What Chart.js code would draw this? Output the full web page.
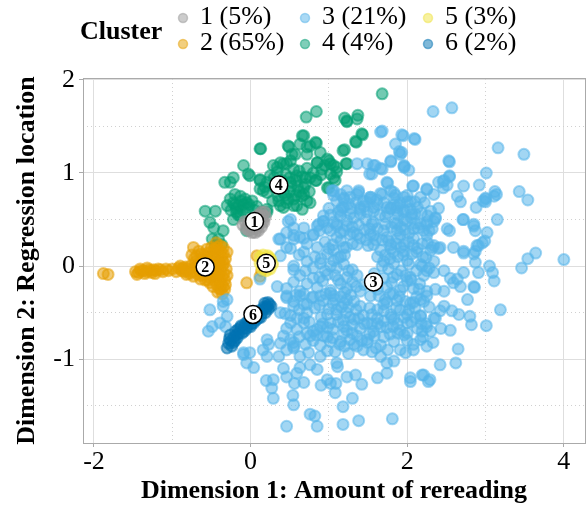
<!DOCTYPE html>
<html>
<head>
<meta charset="utf-8">
<script src="https://cdn.jsdelivr.net/npm/chart.js@4"></script>
<style>
  html, body { margin: 0; padding: 0; background: #fff; }
  canvas { display: block; }
</style>
</head>
<body>
<canvas id="clusterChart" width="587" height="508"></canvas>
<script>
// cluster points as [dim1, dim2]
const cluster1 = [
  [-0.10,0.44],[-0.06,0.40],[-0.02,0.38],[0.02,0.36],[0.06,0.36],[0.10,0.38],[0.14,0.42],[0.17,0.47],
  [0.19,0.53],[0.18,0.58],[0.14,0.58],[0.10,0.55],[0.06,0.52],[0.02,0.49],[-0.03,0.47],[-0.07,0.48],
  [0.00,0.42],[0.05,0.44],[0.10,0.46],[0.13,0.50],[0.08,0.40],[-0.04,0.43],[0.16,0.54],[0.12,0.53],
  [0.03,0.40],[0.07,0.48],[0.09,0.43],[0.01,0.45],[0.15,0.48]
];
const cluster2 = [
  [-1.88,-0.08],[-1.82,-0.09],[-1.47,-0.06],[-1.43,-0.07],[-1.40,-0.05],[-1.37,-0.05],[-1.33,-0.06],
  [-1.30,-0.04],[-1.27,-0.05],[-1.24,-0.04],[-1.21,-0.05],[-1.18,-0.03],[-1.15,-0.04],[-1.08,-0.03],
  [-1.00,-0.03],[-0.92,-0.02],[-0.89,-0.03],[-0.86,-0.02],[-0.83,-0.01],[-0.80,-0.03],
  [-1.45,-0.09],[-1.35,-0.08],[-1.26,-0.07],[-1.12,-0.06],[-1.05,-0.05],[-0.95,-0.06],[-0.88,-0.05],
  [-0.84,-0.06],[-0.78,-0.08],[-1.41,-0.03],[-1.32,-0.02],[-1.22,-0.08],[-0.90,0.00],[-0.82,-0.09],
  [-0.73,0.20],[-0.39,0.22],[-0.35,0.13],[-0.69,0.11],[-0.77,0.00],[-0.81,-0.05],[-0.47,0.07],
  [-0.43,-0.07],[-0.39,-0.14],[-0.35,-0.22],[-0.52,-0.18],[-0.64,-0.14],[-0.73,-0.11],[-0.56,0.18],
  [-0.60,0.00],[-0.52,0.10],[-0.45,0.15],[-0.40,0.05],[-0.36,0.00],[-0.34,-0.08],[-0.45,-0.12],
  [-0.55,-0.08],[-0.65,-0.05],[-0.70,0.05],[-0.62,0.08],[-0.50,0.00],[-0.42,-0.02],[-0.58,-0.15],
  [-0.48,-0.22],[-0.38,-0.25],[-0.66,0.16],[-0.35,0.20],[-0.32,0.08],[-0.33,-0.15],[-0.44,0.25],
  [-0.75,0.12],[-0.71,-0.02],[-0.68,-0.08],[-0.62,-0.02],[-0.58,0.05],[-0.54,0.14],[-0.50,0.20],
  [-0.47,-0.05],[-0.44,0.10],[-0.41,0.17],[-0.38,-0.05],[-0.37,0.10],[-0.40,-0.18],[-0.42,-0.28],
  [-0.36,-0.30],[-0.46,-0.15],[-0.53,-0.12],[-0.57,-0.03],[-0.63,0.13],[-0.67,0.02],[-0.49,0.04],
  [-0.55,0.03],[-0.45,-0.03],[-0.52,-0.06],[-0.60,-0.09],[-0.39,0.02],[-0.34,0.03],[-0.31,-0.03],
  [-0.36,-0.12],
  [-0.30,0.15],[-0.30,-0.10],[-0.32,-0.20],[-0.37,-0.20],[-0.41,-0.10],[-0.44,0.02],[-0.48,0.12],
  [-0.50,-0.10],[-0.55,-0.15],[-0.60,0.12],[-0.64,-0.10],[-0.68,0.00],[-0.72,0.08],[-0.76,-0.06],
  [-0.42,0.20],[-0.38,0.15],[-0.33,-0.25],[-0.40,-0.24],[-0.57,0.10],[-0.62,0.04],[-0.36,0.05],
  [-0.47,0.18],[-0.53,-0.01],[-0.43,-0.20],
  [-0.05,-0.18],[0.08,0.11],[0.12,-0.11],[0.14,-0.05]
];
const cluster3 = [
  [2.33,1.66],[2.57,1.70],[1.95,1.40],[2.10,1.36],[1.93,1.22],[3.16,1.27],[3.49,1.20],[2.54,1.12],
  [1.96,1.07],[2.02,1.03],[3.01,1.00],[2.54,0.96],[2.46,0.91],[2.51,0.87],[2.46,0.84],[2.07,0.86],
  [2.25,0.82],[2.72,0.86],[2.92,0.87],[3.12,0.80],[3.14,0.77],[3.43,0.80],[3.54,0.71],[3.00,0.73],
  [3.00,0.69],[2.68,0.69],[2.88,0.63],[2.04,0.69],[2.10,0.69],[2.06,0.56],[2.71,0.50],[2.85,0.45],
  [2.87,0.38],[3.15,0.50],[2.25,0.45],[2.36,0.51],[2.54,0.38],[2.08,0.40],[2.21,0.38],[2.32,0.40],
  [2.99,0.27],[2.91,0.22],[2.87,0.16],[2.59,0.20],[2.72,0.16],[2.32,0.20],[2.40,0.19],[3.64,0.14],
  [3.54,0.08],[4.00,0.07],
  [3.46,-0.02],[3.19,-0.47],[3.01,-0.64],[2.65,-0.89],[2.42,-1.06],[2.62,-1.04],[2.21,-1.17],[2.29,-1.22],
  [2.80,-0.54],[2.82,-0.63],[2.66,-0.52],[2.55,-0.69],[2.43,-0.67],[2.33,-0.82],[2.25,-0.86],[2.77,-0.36],
  [2.86,-0.23],[3.11,-0.16],[3.09,-0.07],[3.05,0.00],[2.96,0.25],[2.89,0.22],[2.85,0.13],[2.87,0.04],
  [2.72,0.14],[2.42,0.20],[2.34,0.22],[2.91,-0.07],[2.72,-0.07],[2.64,-0.14],[2.55,-0.13],[2.47,-0.05],
  [2.34,-0.07],[2.25,-0.05],[2.19,0.00],[2.85,-0.22],[2.68,-0.22],[2.59,-0.18],[2.47,-0.27],[2.36,-0.25],
  [2.25,-0.32],[2.17,-0.36],[2.47,-0.43],[2.57,-0.48],[2.42,-0.48],[2.36,-0.56],[2.25,-0.65],[2.19,-0.70],
  [0.46,-1.72],[0.85,-1.72],[0.82,-1.61],[0.76,-1.59],[1.18,-1.70],[1.38,-1.66],[1.81,-1.64],[1.18,-1.51],
  [1.30,-1.42],[0.55,-1.49],[0.54,-1.39],[1.08,-1.36],[1.09,-1.26],[1.02,-1.26],[0.90,-1.28],[0.29,-1.42],
  [0.27,-1.31],[0.20,-1.23],[0.29,-1.22],[0.56,-1.26],[0.68,-1.25],[0.46,-1.19],[0.42,-1.10],[1.42,-1.27],
  [1.34,-1.17],[1.23,-1.19],[1.11,-1.08],[0.98,-1.22],[0.85,-1.11],[0.76,-1.06],[0.63,-1.09],[0.59,-1.15],
  [0.04,-1.09],[-0.09,-0.95],[-0.05,-1.04],[0.16,-0.90],[0.23,-0.84],[0.21,-0.97],[-0.35,-0.38],[-0.30,-0.54],
  [-0.32,-0.65],[0.46,-0.34],[0.44,-0.51],[0.59,-0.56],[0.51,-0.61],[0.63,-0.32],[0.68,-0.41],[0.78,-0.34],
  [0.89,-0.32],[0.98,-0.52],[1.06,-0.32],[1.02,-0.29],[0.42,-0.75],[0.51,-0.79],[0.46,-0.90],[0.36,-0.97],
  [0.55,-0.88],[0.63,-0.97],[0.70,-0.84],[0.76,-0.75],[0.85,-0.68],[0.93,-0.75],[0.89,-0.97],[1.02,-0.81],
  [1.08,-0.92],[1.14,-0.84],[1.19,-0.72],[1.27,-0.79],[1.10,-1.04],[1.44,-0.90],[1.36,-0.86],[1.49,-0.79],
  [1.66,-0.97],[1.74,-1.04],[1.62,-1.20],[1.74,-1.15],[1.83,-1.02],[1.91,-0.90],[2.04,-1.20],[2.19,-1.17],
  [2.08,-0.90],[2.17,-0.79],[2.00,-0.72],[1.23,-0.36],[1.40,-0.43],[1.53,-0.32],[1.74,-0.39],[1.91,-0.47],
  [2.08,-0.39],[2.17,-0.54],[2.00,-0.61],[1.83,-0.57],[1.66,-0.65],[1.49,-0.61],[1.32,-0.57],[1.19,-0.65],
  [1.10,-0.47],[1.02,-0.61],[0.89,-0.65],[0.72,-0.72],[0.68,-0.61],[0.59,-0.68],[2.04,-1.24],[2.27,-1.24],
  [0.51,0.50],[0.46,0.36],[0.38,0.29],[0.55,0.29],[0.34,-0.22],[0.46,-0.32],[0.55,-0.43],[0.38,-0.50],
  [-0.30,-0.36],[-0.35,-0.43],[-0.52,-0.47],[-0.49,-0.65],[-0.54,-0.70],[-0.39,-0.61],[0.21,-0.79],[0.38,-0.83],
  [0.55,-0.86],[-0.09,-0.93],[-0.01,-0.93],[0.12,-0.14],[0.55,0.00],[0.38,0.11],
  [1.68,1.45],[1.85,1.31],[1.91,1.20],[1.79,1.13],[1.59,1.08],[1.49,1.10],[1.36,1.10],[1.68,1.04],
  [1.96,1.06],[1.55,0.99],[1.74,0.90],[1.83,0.79],[1.68,0.77],[1.53,0.74],[1.44,0.70],[1.38,0.79],
  [1.23,0.81],[1.15,0.77],[1.04,0.81],[1.10,0.70],[1.19,0.63],[1.27,0.56],[1.40,0.56],[1.57,0.63],
  [1.74,0.63],[1.87,0.63],[1.96,0.74],[0.48,0.48],[0.36,0.29],[0.55,0.41],[0.68,0.41],[0.85,0.43],
  [0.93,0.48],[0.80,0.34],[0.63,0.31],[1.02,0.38],[1.19,0.38],[1.36,0.34],[1.53,0.34],[1.70,0.38],
  [1.87,0.38],[1.15,0.27],[1.36,0.23],[1.57,0.23],[1.79,0.23],[1.96,0.23],[0.46,0.20],
  [1.66,1.44],[1.93,1.41],[2.09,1.37],[1.90,1.23],[2.53,1.13],[1.79,1.12],[1.96,1.08],[1.57,1.08],
  [1.66,1.05],[1.52,0.99],[2.54,0.97],[2.47,0.92],[2.40,0.90],[3.00,0.72],[2.97,0.70],[3.11,0.75],
  [2.08,0.86],[2.25,0.83],[1.75,0.89],[1.79,0.81],[1.85,0.76],[1.38,0.81],[1.27,0.74],[1.53,0.72],
  [1.61,0.71],[1.83,0.66],[1.91,0.68],[2.00,0.69],[1.79,0.62],[1.87,0.59],[1.95,0.58],[2.04,0.61],
  [2.10,0.56],[1.06,0.81],[1.19,0.72],[1.34,0.68],[1.40,0.61],[1.17,0.63],[1.15,0.54],[1.49,0.58],
  [1.57,0.47],[1.47,0.50],[0.93,0.54],[0.87,0.45],[1.06,0.47],[1.10,0.43],[1.23,0.43],[2.25,0.47],
  [2.36,0.52],[2.51,0.40],[2.72,0.50],[2.85,0.43],[3.02,0.36],[2.64,0.75],
  [1.06,0.76],[1.19,0.73],[1.36,0.77],[1.53,0.74],[1.66,0.78],[1.83,0.73],[2.00,0.76],[2.17,0.74],[2.34,0.77],
  [1.15,0.60],[1.40,0.63],[1.57,0.59],[1.79,0.62],[1.96,0.60],[2.13,0.63],[2.30,0.59],
  [0.93,0.48],[1.10,0.45],[1.23,0.49],[1.87,0.46],[2.00,0.48],[2.17,0.45],[2.34,0.48],
  [0.55,0.33],[0.68,0.30],[0.80,0.33],[1.10,0.31],[1.27,0.34],[1.40,0.30],[1.57,0.33],[1.74,0.31],
  [1.91,0.34],[2.08,0.30],[2.25,0.33],
  [0.51,0.19],[1.06,0.17],[1.19,0.20],[1.66,0.17],[1.79,0.19],[1.96,0.16],[2.13,0.19],[2.30,0.17],
  [0.72,0.05],[0.89,0.03],[1.06,0.06],[1.19,0.02],[1.70,0.05],[1.83,0.03],[2.00,0.06],[2.17,0.02],[2.34,0.05],
  [0.63,-0.10],[0.80,-0.13],[0.98,-0.09],[1.23,-0.12],[1.36,-0.10],[1.70,-0.13],[1.87,-0.09],[2.04,-0.12],[2.21,-0.10],
  [0.46,-0.24],[0.63,-0.27],[0.85,-0.23],[1.02,-0.26],[1.23,-0.24],[1.40,-0.27],[1.74,-0.23],[1.91,-0.26],
  [2.08,-0.24],[2.25,-0.27],
  [0.55,-0.38],[0.72,-0.41],[0.93,-0.37],[1.19,-0.40],[1.32,-0.38],[1.70,-0.41],[1.87,-0.37],[2.04,-0.40],[2.21,-0.38],
  [0.51,-0.53],[0.68,-0.56],[1.10,-0.52],[1.27,-0.55],[1.44,-0.53],[1.62,-0.56],[1.79,-0.52],[1.96,-0.55],
  [2.17,-0.53],[2.34,-0.56],
  [0.46,-0.67],[0.80,-0.70],[0.98,-0.66],[1.23,-0.69],[1.40,-0.67],[1.57,-0.70],[1.74,-0.66],[1.91,-0.69],
  [2.13,-0.67],[2.30,-0.70],
  [0.55,-0.82],[0.89,-0.85],[1.15,-0.81],[1.32,-0.84],[1.49,-0.82],[1.66,-0.85],[1.83,-0.81],[2.08,-0.84],
  [1.62,0.10],[1.78,0.08],[1.92,-0.05],[1.88,0.30],[1.35,-0.22],[1.62,-0.47],[1.78,-0.30],[1.22,-0.50],
  [1.45,-0.62],[1.80,-0.55],[1.55,0.45],[1.84,0.46],[1.31,0.36],[1.58,-0.08],[1.95,0.12],[2.05,-0.15],
  [1.25,-0.05],[1.12,-0.15],[1.15,0.10],[2.02,0.35],[1.68,0.28],[1.48,0.28],[1.98,-0.38],[1.88,-0.72],
  [1.58,-0.75],[1.30,-0.72],[1.95,-0.22],[2.12,0.15],[1.05,-0.40],[1.65,0.55],[1.96,0.50],[1.22,0.20],
  [2.10,-0.55],
  [1.25,0.67],[1.48,0.69],[1.70,0.68],[1.90,0.66],[2.22,0.68],
  [1.02,0.55],[1.32,0.52],[1.72,0.53],[1.88,0.55],[2.05,0.52],[2.26,0.54],
  [0.98,0.41],[1.30,0.42],[1.45,0.39],[1.62,0.40],[1.80,0.42],[1.97,0.39],[2.14,0.41],
  [0.72,0.24],[0.95,0.26],[1.05,0.23],[1.50,0.22],[1.86,0.24],[2.02,0.26],[2.19,0.24],
  [0.62,0.12],[0.82,0.10],[0.98,0.13],[1.12,0.09],[1.72,0.12],[1.88,0.10],[2.06,0.13],[2.24,0.09],
  [0.55,-0.04],[0.80,-0.02],[0.95,-0.05],[1.10,-0.02],[1.30,-0.04],[1.76,-0.03],[2.12,-0.05],[2.28,-0.02],
  [0.55,-0.17],[0.72,-0.19],[0.92,-0.16],[1.15,-0.19],[1.30,-0.17],[1.45,-0.20],[1.80,-0.18],[2.00,-0.16],[2.16,-0.19],
  [0.58,-0.31],[0.80,-0.33],[0.96,-0.30],[1.15,-0.33],[1.28,-0.31],[1.64,-0.32],[1.82,-0.30],[2.12,-0.33],
  [0.62,-0.47],[0.82,-0.45],[1.00,-0.46],[1.16,-0.44],[1.35,-0.47],[1.52,-0.45],[1.70,-0.48],[1.86,-0.45],
  [2.02,-0.47],[2.28,-0.44],
  [0.75,-0.60],[0.92,-0.62],[1.12,-0.60],[1.30,-0.63],[1.55,-0.62],[1.70,-0.59],[1.88,-0.62],[2.05,-0.60],[2.24,-0.62],
  [0.62,-0.76],[0.84,-0.74],[1.05,-0.77],[1.36,-0.75],[1.52,-0.73],[1.70,-0.76],[1.96,-0.74],[2.20,-0.76],
  [0.74,-0.93],[0.98,-0.91],[1.25,-0.94],[1.55,-0.92],[1.75,-0.90],[1.98,-0.93],
  [1.00,0.62],[1.12,0.58],[1.28,0.62],[1.45,0.64],[1.62,0.66],[1.75,0.57],[2.18,0.57],[2.40,0.62],
  [0.88,0.38],[1.15,0.36],[1.38,0.44],[1.52,0.40],[1.72,0.45],[1.92,0.42],[2.10,0.46],[2.28,0.38],
  [0.85,0.20],[1.00,0.19],[1.30,0.24],[1.60,0.28],[1.76,0.27],[1.92,0.20],[2.08,0.22],[2.26,0.25],
  [0.68,0.15],[0.90,0.08],[1.02,0.00],[1.20,0.12],[1.68,0.00],[1.82,0.15],[2.02,0.02],[2.20,0.10],
  [0.70,-0.05],[0.88,-0.12],[1.08,-0.10],[1.20,-0.28],[1.62,-0.25],[1.82,-0.12],[1.98,-0.10],[2.15,-0.25],
  [0.68,-0.30],[0.88,-0.42],[1.08,-0.36],[1.25,-0.44],[1.55,-0.52],[1.72,-0.36],[1.90,-0.33],[2.10,-0.45],
  [0.72,-0.50],[0.90,-0.55],[1.05,-0.68],[1.18,-0.58],[1.38,-0.56],[1.62,-0.62],[1.82,-0.65],[2.00,-0.52],
  [0.80,-0.80],[0.98,-0.76],[1.20,-0.86],[1.42,-0.80],[1.60,-0.88],[1.78,-0.73],[2.00,-0.80],[2.18,-0.62]
];
const cluster4 = [
  [1.68,1.85],[0.84,1.66],[0.71,1.60],[1.20,1.59],[1.23,1.55],[1.37,1.62],[1.43,1.41],[1.35,1.33],
  [1.20,1.25],[1.22,1.10],[0.13,1.26],[0.66,1.40],[0.49,1.28],[0.63,1.31],[0.76,1.29],[0.84,1.32],
  [0.72,1.20],[0.57,1.20],[0.51,1.13],[0.42,1.10],[0.34,1.06],[0.98,1.15],[1.02,1.10],[1.10,1.06],
  [0.85,1.11],[0.91,1.04],[1.02,0.99],[1.08,0.92],[1.00,0.84],[0.84,0.92],[0.76,0.95],[-0.09,1.08],
  [-0.03,0.99],[0.12,0.92],[0.16,0.81],[0.42,0.63],[0.59,0.65],[0.72,0.70],[0.21,0.58],
  [1.42,1.42],[1.34,1.34],[1.18,1.24],[0.83,1.33],[0.68,1.40],[0.72,1.28],[0.89,1.22],[0.85,1.11],
  [1.00,1.13],[1.06,1.08],[1.10,1.01],[1.23,1.10],[1.06,0.95],[0.98,0.84],[0.70,0.95],[0.83,0.92],
  [0.76,0.68],[0.66,0.61],[0.68,0.77],[1.23,1.56],[1.36,1.58],
  [0.12,1.26],[0.48,1.29],[0.53,1.20],[-0.01,0.97],[0.12,0.93],[-0.22,0.95],[-0.26,0.90],[-0.33,0.90],
  [-0.20,0.77],[-0.13,0.75],[-0.07,0.72],[-0.22,0.68],[-0.15,0.65],[-0.09,0.66],[-0.03,0.63],[-0.26,0.72],
  [-0.30,0.65],[-0.58,0.59],[-0.45,0.59],[-0.52,0.47],[-0.47,0.41],[-0.35,0.38],[-0.49,0.29],[-0.41,0.29],
  [-0.37,0.23],[-0.45,0.22],[-0.18,0.58],[-0.13,0.54],[-0.22,0.50],[-0.05,0.38],[0.21,0.61],[0.14,0.58],
  [0.29,1.08],[0.38,1.11],[0.46,1.10],[0.55,1.04],[0.59,0.97],[0.51,0.90],[0.42,0.79],[0.46,0.68],
  [0.55,0.65],[0.38,0.65],[0.21,0.79],[0.12,0.83],[0.25,0.97],[0.34,1.01],[0.21,0.90],
  [0.30,0.85],[0.40,0.92],[0.50,0.80],[0.60,0.85],[0.65,0.75],[0.55,0.72],[0.35,0.75],[0.28,0.70],
  [0.45,0.98],[0.62,1.02],[0.70,0.88],[0.75,0.80],[0.30,0.95],[0.18,0.85],[-0.10,0.60],[-0.18,0.62],
  [-0.05,0.68],[0.02,0.70],[-0.25,0.60],[0.05,0.60],[0.48,0.72],[0.58,0.92],[0.66,0.96],[0.80,1.00],
  [0.90,0.98],[0.95,1.08],[0.72,1.05],[0.40,0.85],
  [0.52,0.86],[0.62,0.80],[0.44,0.76],[0.36,0.70],[0.58,0.76],[0.68,0.84],[0.50,0.95],[-0.12,0.70],
  [-0.20,0.66],[-0.02,0.66],[0.08,0.64],[-0.16,0.55]
];
const cluster5 = [
  [0.12,0.10],[0.16,0.12],[0.22,0.11],[0.26,0.07],[0.28,0.02],[0.25,-0.03],[0.20,-0.05],[0.15,-0.03],
  [0.12,0.03],[0.18,0.04],[0.22,0.05],[0.16,0.08],[0.20,0.00],[0.24,0.09]
];
const cluster6 = [
  [-0.28,-0.83],[-0.25,-0.80],[-0.26,-0.74],[-0.21,-0.76],[-0.19,-0.70],[-0.15,-0.72],[-0.13,-0.66],
  [-0.09,-0.67],[-0.07,-0.62],[-0.03,-0.63],[-0.01,-0.58],[0.03,-0.57],[0.05,-0.53],[0.09,-0.52],
  [0.11,-0.48],[0.15,-0.47],[0.17,-0.44],[0.21,-0.43],[0.23,-0.46],[0.19,-0.50],[0.13,-0.55],
  [0.07,-0.58],[0.01,-0.62],[-0.05,-0.67],[-0.11,-0.72],[-0.17,-0.77],[-0.22,-0.82],[-0.30,-0.88],
  [0.24,-0.41],[0.18,-0.40],
  [-0.24,-0.86],[-0.20,-0.80],[-0.16,-0.68],[-0.12,-0.64],[-0.08,-0.70],[-0.04,-0.60],[0.00,-0.65],
  [0.04,-0.61],[0.06,-0.55],[0.10,-0.56],[0.14,-0.51],[0.20,-0.45],[0.22,-0.39],[0.26,-0.43],
  [-0.18,-0.74],[-0.27,-0.78]
];

const clusterNames = ['1 (5%)', '2 (65%)', '3 (21%)', '4 (4%)', '5 (3%)', '6 (2%)'];
const clusterColors = ['153,153,153', '230,159,0', '86,180,233', '0,158,115', '240,228,66', '0,114,178'];
const labelX = [0.05, -0.58, 1.57, 0.36, 0.20, 0.03];
const labelY = [0.48, -0.01, -0.17, 0.87, 0.03, -0.52];
const labelText = ['1', '2', '3', '4', '5', '6'];
const xTicks = [-2, 0, 2, 4];
const xMinorTicks = [-1, 1, 3];
const yTicks = [-1, 0, 1, 2];
const yMinorTicks = [-1.5, -0.5, 0.5, 1.5];

const FONT = "'Liberation Serif', 'Times New Roman', serif";
const xRange = [-2.14, 4.27];
const yRange = [-1.90, 2.02];
const ALPHA = 0.55;

function pointSet(pts, idx) {
    return {
        label: clusterNames[idx],
        data: pts.map(p => ({x: p[0], y: p[1]})),
        backgroundColor: 'rgba(' + clusterColors[idx] + ',' + ALPHA + ')',
        borderColor: 'rgba(' + clusterColors[idx] + ',' + ALPHA + ')',
        borderWidth: 2,
        pointRadius: 5.5
    };
}

// legend drawn above the plot, three columns of two
const legendPlugin = {
    id: 'clusterLegend',
    afterDraw(chart) {
        const ctx = chart.ctx;
        ctx.save();
        ctx.fillStyle = '#000';
        ctx.textBaseline = 'middle';
        ctx.font = 'bold 26px ' + FONT;
        ctx.fillText('Cluster', 80, 32);
        ctx.font = '26px ' + FONT;
        const colX = [200, 322, 445];
        const rowY = [17, 43];
        for (let i = 0; i < clusterNames.length; i++) {
            const cx = colX[Math.floor(i / 2)];
            const cy = rowY[i % 2];
            ctx.beginPath();
            ctx.arc(cx - 17, cy + 1, 4.5, 0, Math.PI * 2);
            ctx.fillStyle = 'rgba(' + clusterColors[i] + ',0.5)';
            ctx.fill();
            ctx.lineWidth = 1.5;
            ctx.strokeStyle = 'rgba(' + clusterColors[i] + ',0.5)';
            ctx.stroke();
            ctx.fillStyle = '#000';
            ctx.fillText(clusterNames[i], cx, cy);
        }
        ctx.restore();
    }
};

// numbers inside the cluster label circles
const labelPlugin = {
    id: 'clusterNumbers',
    afterDatasetsDraw(chart) {
        const meta = chart.getDatasetMeta(0);
        const ctx = chart.ctx;
        ctx.save();
        ctx.font = 'bold 16px ' + FONT;
        ctx.fillStyle = '#000';
        ctx.textAlign = 'center';
        ctx.textBaseline = 'middle';
        meta.data.forEach((pt, i) => {
            ctx.fillText(labelText[i], pt.x, pt.y + 1);
        });
        ctx.restore();
    }
};

const ctx = document.getElementById('clusterChart').getContext('2d');
new Chart(ctx, {
    type: 'scatter',
    data: {
        datasets: [
            {
                label: 'labels',
                data: labelX.map((x, i) => ({x: x, y: labelY[i]})),
                backgroundColor: '#fff',
                borderColor: '#000',
                borderWidth: 1.5,
                pointRadius: 9
            },
            pointSet(cluster6, 5),
            pointSet(cluster5, 4),
            pointSet(cluster3, 2),
            pointSet(cluster1, 0),
            pointSet(cluster2, 1),
            pointSet(cluster4, 3)
        ]
    },
    options: {
        responsive: false,
        animation: false,
        devicePixelRatio: 1,
        layout: { autoPadding: false, padding: { top: 78, right: 2, left: 0, bottom: 0 } },
        plugins: { legend: { display: false }, tooltip: { enabled: false } },
        scales: {
            x: {
                type: 'linear',
                position: 'bottom',
                min: xRange[0],
                max: xRange[1],
                afterBuildTicks: s => { s.ticks = xTicks.map(v => ({value: v})); },
                afterFit: s => { s.height = 65; },
                ticks: { color: '#000', padding: 0, font: { family: FONT, size: 26 }, callback: v => String(v) },
                grid: { color: '#dedede', lineWidth: 1, tickColor: '#aaaaaa', tickLength: 4 },
                border: { color: '#aaaaaa', width: 1 },
                title: {
                    display: true,
                    text: 'Dimension 1: Amount of rereading',
                    color: '#000',
                    font: { family: FONT, size: 26, weight: 'bold' },
                    padding: { top: 0, bottom: 1 }
                }
            },
            y: {
                type: 'linear',
                position: 'left',
                min: yRange[0],
                max: yRange[1],
                afterBuildTicks: s => { s.ticks = yTicks.map(v => ({value: v})); },
                afterFit: s => { s.width = 83; },
                ticks: { color: '#000', padding: 4, font: { family: FONT, size: 26 }, callback: v => String(v) },
                grid: { color: '#dedede', lineWidth: 1, tickColor: '#aaaaaa', tickLength: 4 },
                border: { color: '#aaaaaa', width: 1 },
                title: {
                    display: true,
                    text: 'Dimension 2: Regression location',
                    color: '#000',
                    font: { family: FONT, size: 26, weight: 'bold' },
                    padding: { top: 12, bottom: 0 }
                }
            },
            x2: {
                type: 'linear',
                position: 'top',
                min: xRange[0],
                max: xRange[1],
                afterBuildTicks: s => { s.ticks = xMinorTicks.map(v => ({value: v})); },
                afterFit: s => { s.height = 0; },
                ticks: { display: false },
                grid: { color: '#d0d0d0', lineWidth: 1, drawTicks: false },
                border: { color: '#aaaaaa', width: 1, dash: [1, 3] }
            },
            y2: {
                type: 'linear',
                position: 'right',
                min: yRange[0],
                max: yRange[1],
                afterBuildTicks: s => { s.ticks = yMinorTicks.map(v => ({value: v})); },
                afterFit: s => { s.width = 0; },
                ticks: { display: false },
                grid: { color: '#d0d0d0', lineWidth: 1, drawTicks: false },
                border: { color: '#aaaaaa', width: 1, dash: [1, 3] }
            }
        }
    },
    plugins: [legendPlugin, labelPlugin]
});
</script>
</body>
</html>
